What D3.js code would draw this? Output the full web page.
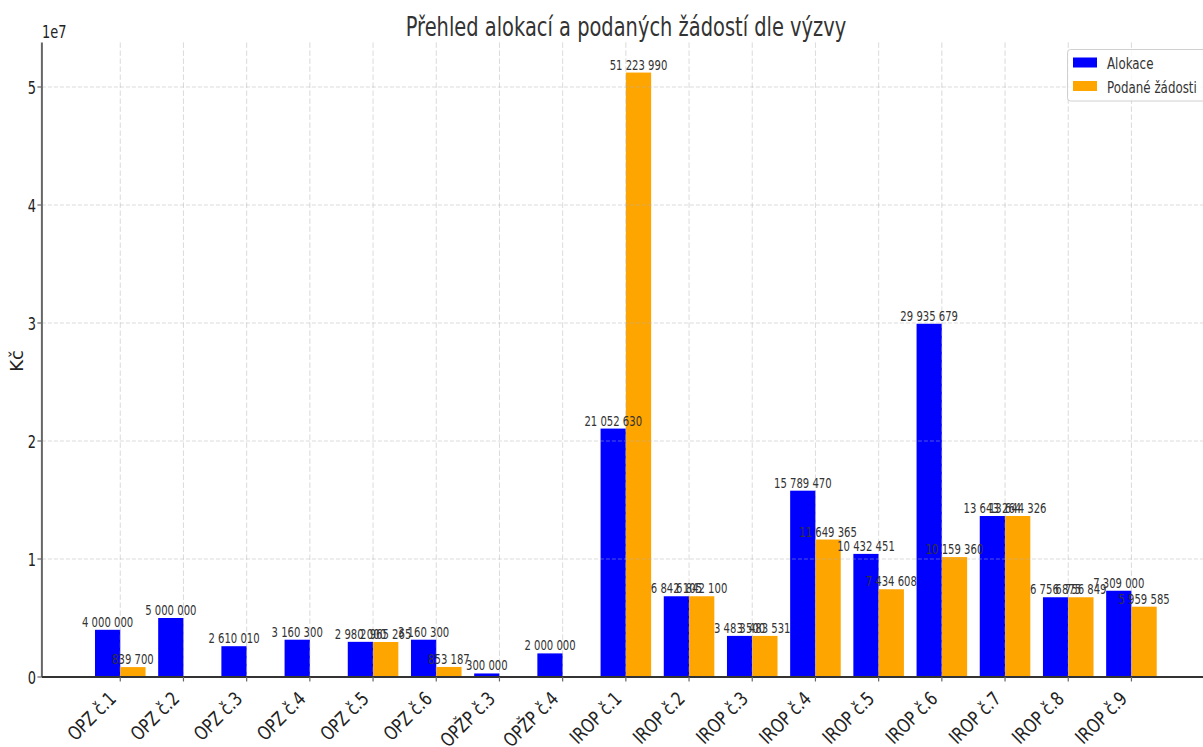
<!DOCTYPE html>
<html><head><meta charset="utf-8">
<script src="https://cdn.jsdelivr.net/npm/d3@7"></script>
<style>body{margin:0;background:#fff}svg{display:block;font-family:"DejaVu Sans",sans-serif}</style>
</head><body><svg id="c" width="1203" height="747"></svg>
<script>
const categories = ["OPZ č.1","OPZ č.2","OPZ č.3","OPZ č.4","OPZ č.5","OPZ č.6","OPŽP č.3","OPŽP č.4","IROP č.1","IROP č.2","IROP č.3","IROP č.4","IROP č.5","IROP č.6","IROP č.7","IROP č.8","IROP č.9"];
const alokace = [4000000,5000000,2610010,3160300,2980000,3160300,300000,2000000,21052630,6842105,3483500,15789470,10432451,29935679,13643264,6756875,7309000];
const podane = [839700,0,0,0,2965265,853187,0,0,51223990,6842100,3483531,11649365,7434608,10159360,13644326,6756849,5959585];
const seriesNames = ["Alokace","Podané žádosti"];
const seriesColors = ["#0000ff","#ffa500"];
const yTicks = [0,1e7,2e7,3e7,4e7,5e7];
const title = "Přehled alokací a podaných žádostí dle výzvy";
const yLabel = "Kč";

const SX = 0.72;
const svg = d3.select("#c");
const x = d3.scaleLinear().domain([-1.24, 17.24]).range([41.9, 1209.8]);
const y = d3.scaleLinear().domain([0, 5.378e7]).range([677, 42.4]);
const fmt = v => d3.format(",")(v).replace(/,/g, " ");
function txt(g, tx, ty, s, rot, sx) {
  return g.append("text").attr("transform", `translate(${tx},${ty})` + (rot||"") + ` scale(${sx||SX},1)`).text(s);
}

// bars
const series = [alokace, podane];
const bw = 0.4;
series.forEach((vals, si) => {
  svg.append("g").selectAll("rect").data(vals).join("rect")
    .attr("x", (d,i) => x(i - bw + si*bw))
    .attr("width", (d,i) => x(i + si*bw) - x(i - bw + si*bw))
    .attr("y", d => y(d))
    .attr("height", d => y(0) - y(d))
    .attr("fill", seriesColors[si]);
});

// grid (above bars, semi-transparent)
const grid = svg.append("g").attr("stroke", "#b0b0b0").attr("stroke-opacity", 0.6).attr("stroke-width", 0.8);
yTicks.forEach(t => grid.append("line").attr("x1", x(-1.24)).attr("x2", x(17.24)).attr("y1", y(t)).attr("y2", y(t)).attr("stroke-dasharray", "4,2"));
categories.forEach((c,i) => grid.append("line").attr("x1", x(i)).attr("x2", x(i)).attr("y1", y(5.378e7)).attr("y2", y(0)).attr("stroke-dasharray", "5.5,2.5"));

// value labels
const lab = svg.append("g").attr("fill", "#333").attr("font-size", 14).attr("text-anchor", "middle");
series.forEach((vals, si) => {
  vals.forEach((v,i) => {
    if (v > 0) txt(lab, x(i - bw/2 + si*bw), y(v) - 3, fmt(v));
  });
});

// axes
svg.append("line").attr("x1", x(-1.24)).attr("x2", x(-1.24)).attr("y1", y(5.378e7)).attr("y2", y(0)).attr("stroke", "#666").attr("stroke-width", 2);
svg.append("line").attr("x1", x(-1.24)).attr("x2", 1210).attr("y1", y(0)).attr("y2", y(0)).attr("stroke", "#333").attr("stroke-width", 2);
const yt = svg.append("g").attr("font-size", 18).attr("fill", "#222").attr("text-anchor", "end");
yTicks.forEach(t => {
  svg.append("line").attr("x1", x(-1.24) - 4.5).attr("x2", x(-1.24)).attr("y1", y(t)).attr("y2", y(t)).attr("stroke", "#666").attr("stroke-width", 1.2);
  txt(yt, x(-1.24) - 6, y(t) + 6.5, String(t / 1e7));
});
txt(svg.append("g").attr("font-size", 18).attr("fill", "#222"), 42, 38, "1e7");

const xt = svg.append("g").attr("font-size", 19).attr("fill", "#222").attr("text-anchor", "end");
categories.forEach((c,i) => {
  svg.append("line").attr("x1", x(i)).attr("x2", x(i)).attr("y1", y(0)).attr("y2", y(0) + 4.5).attr("stroke", "#666").attr("stroke-width", 1.2);
  txt(xt, x(i) - 3, 700, c, " rotate(-45)", 0.8);
});

// y label
svg.append("text").attr("font-size", 18).attr("fill", "#222").attr("text-anchor", "middle")
  .attr("transform", "translate(23,361) rotate(-90)").text(yLabel);

// title
txt(svg.append("g").attr("font-size", 27).attr("fill", "#333").attr("text-anchor", "middle"), 626, 35.5, title);

// legend
const lg = svg.append("g");
lg.append("rect").attr("x", 1067.5).attr("y", 49.5).attr("width", 150).attr("height", 51.5).attr("rx", 3)
  .attr("fill", "#fff").attr("fill-opacity", 0.8).attr("stroke", "#d0d0d0");
seriesNames.forEach((n, k) => {
  lg.append("rect").attr("x", 1073).attr("y", 57.5 + k*23.5).attr("width", 24).attr("height", 10).attr("fill", seriesColors[k]);
  txt(lg.append("g").attr("font-size", 16.5).attr("fill", "#333"), 1107, 69 + k*23.5, n);
});
</script></body></html>
